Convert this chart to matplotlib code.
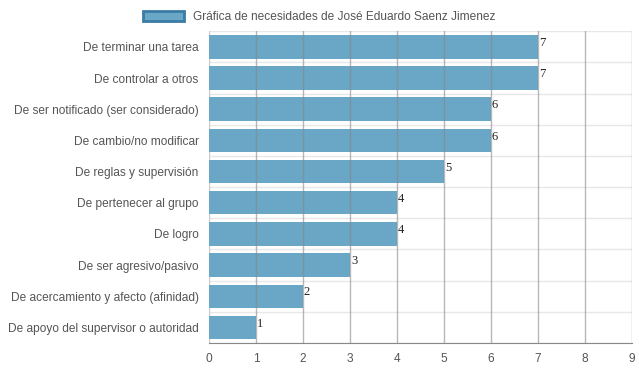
import numpy as np
import matplotlib.pyplot as plt

plt.rcParams['font.family'] = ['Liberation Sans', 'DejaVu Sans']

categorias = ["De terminar una tarea", "De controlar a otros",
              "De ser notificado (ser considerado)", "De cambio/no modificar",
              "De reglas y supervisión", "De pertenecer al grupo", "De logro",
              "De ser agresivo/pasivo", "De acercamiento y afecto (afinidad)",
              "De apoyo del supervisor o autoridad"]
valores = [7, 7, 6, 6, 5, 4, 4, 3, 2, 1]
titulo = "Gráfica de necesidades de José Eduardo Saenz Jimenez"

fig = plt.figure(figsize=(6.39, 3.72), dpi=100)
ax = fig.add_axes([0.327, 0.078, 0.662, 0.838])

y = np.arange(len(categorias))
ax.barh(y, valores, height=0.75, color="#6aa6c6", edgecolor="none",
        zorder=2, label=titulo)
for yi, v in zip(y, valores):
    ax.text(v + 0.02, yi - 0.12, str(v), family="Liberation Serif",
            fontsize=9, color="#222222", ha="left", va="center", zorder=4)

ax.set_ylim(len(categorias) - 0.5, -0.5)
ax.set_xlim(0, 9)
ax.set_xticks(range(10))
ax.set_yticks(y)
ax.set_yticklabels(categorias)
ax.tick_params(axis="both", labelsize=8.6, colors="#555555", length=0)
ax.tick_params(axis="x", pad=7.5)
ax.tick_params(axis="y", pad=7.5)

for xv in range(1, 10):
    ax.axvline(xv, color="#888888", alpha=0.6, lw=1, zorder=3)
for yv in np.arange(-0.5, len(categorias), 1.0):
    ax.axhline(yv, color="#e8e8e8", lw=1, zorder=1)

for s in ["top", "right", "left"]:
    ax.spines[s].set_visible(False)
ax.spines["bottom"].set_color("#888888")
ax.axvline(0, color="#cccccc", lw=1, zorder=1)

leg = fig.legend(loc="upper center", bbox_to_anchor=(0.5, 1.0), frameon=False,
                 fontsize=8.6, handlelength=3.4, handleheight=1.0,
                 labelcolor="#555555")
for h in leg.legend_handles:
    h.set_edgecolor("#3a7ca5")
    h.set_linewidth(2)

fig.savefig("out.png", dpi=100)
